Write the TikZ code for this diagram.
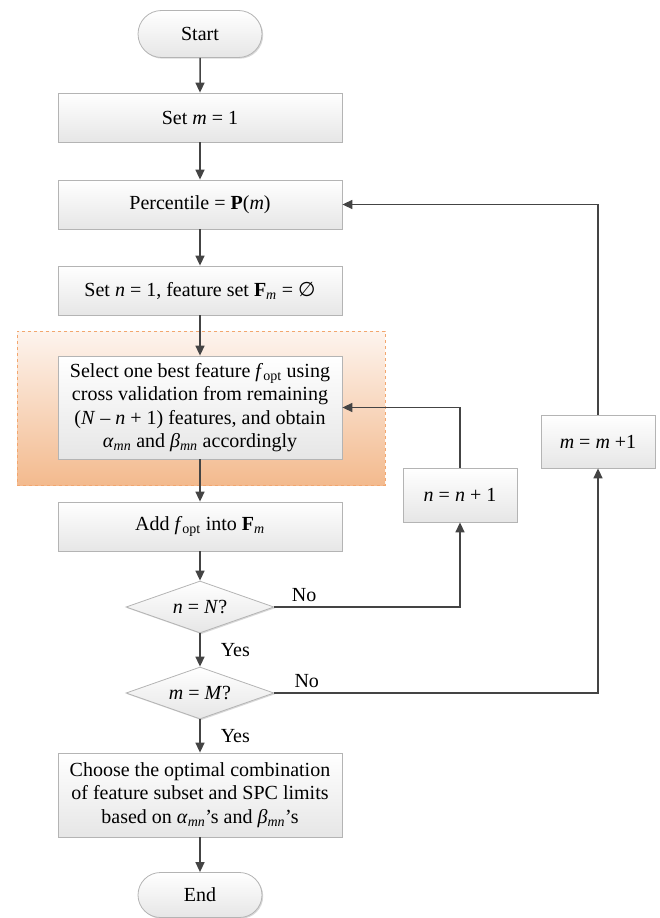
\documentclass[tikz,border=0pt]{standalone}
\usepackage{fontspec}
\setmainfont{Liberation Serif}
\newfontfamily\symfont{DejaVu Sans}
\usetikzlibrary{shapes.geometric,shapes.misc,arrows.meta,shadows}
\definecolor{boxborder}{HTML}{B4B4B4}
\definecolor{boxgray}{HTML}{E6E6E6}
\definecolor{linegray}{HTML}{444444}
\definecolor{orangetop}{HTML}{FDF4EE}
\definecolor{orangebot}{HTML}{F3BA8E}
\definecolor{orangeedge}{HTML}{F2A66E}
\begin{document}
\begin{tikzpicture}[x=1pt,y=-1pt,
  font=\fontsize{20}{23.5}\selectfont,
  shad/.style={drop shadow={shadow xshift=1.2pt,shadow yshift=-1.2pt,opacity=0.25,fill=black!60}},
  box/.style={draw=boxborder, line width=0.8pt, top color=white, bottom color=boxgray,
    minimum width=284pt, inner sep=0pt, align=center, shad},
  smallbox/.style={box, minimum width=114pt},
  pill/.style={rounded rectangle, draw=boxborder, line width=0.8pt, top color=white, bottom color=boxgray,
    minimum width=124pt, inner sep=0pt, shad},
  decision/.style={diamond, aspect=2.85, draw=boxborder, line width=0.8pt, top color=white, bottom color=boxgray,
    minimum width=148pt, minimum height=52pt, inner sep=0pt, shad},
  region/.style={draw=orangeedge, dashed, line width=0.8pt, top color=orangetop, bottom color=orangebot,
    minimum width=368pt, minimum height=154pt, inner sep=0pt},
  arr/.style={draw=linegray, line width=1.5pt, -{Triangle[length=10pt,width=9pt]}},
  lbl/.style={inner sep=2pt}
]
\useasboundingbox (0,0) rectangle (660,918);

\node[region] (zone) at (201,408) {};

\node[pill, minimum height=47pt] (start) at (200,34) {Start};
\node[box, minimum height=49pt] (setm) at (200,117.5) {Set \textit{m} = 1};
\node[box, minimum height=49pt] (perc) at (200,204.5) {Percentile = \textbf{P}(\textit{m})};
\node[box, minimum height=49pt] (setn) at (200,290.5) {Set \textit{n} = 1, feature set \textbf{F}\textsubscript{\textit{m}} = {\symfont ∅}};
\node[box, minimum height=103pt] (select) at (200,407.5) {Select one best feature \textit{f}\textsubscript{opt} using\\cross validation from remaining\\(\textit{N} – \textit{n} + 1) features, and obtain\\\textit{α}\textsubscript{\textit{mn}} and \textit{β}\textsubscript{\textit{mn}} accordingly};
\node[box, minimum height=49pt] (add) at (200,526.5) {Add \textit{f}\textsubscript{opt} into \textbf{F}\textsubscript{\textit{m}}};
\node[decision] (d1) at (200,607) {\textit{n} = \textit{N}?};
\node[decision] (d2) at (200,693) {\textit{m} = \textit{M}?};
\node[box, minimum height=84pt] (choose) at (200,795) {Choose the optimal combination\\of feature subset and SPC limits\\based on \textit{α}\textsubscript{\textit{mn}}’s and \textit{β}\textsubscript{\textit{mn}}’s};
\node[pill, minimum height=45pt] (end) at (200,895) {End};

\node[smallbox, minimum height=54pt] (nn) at (460,495) {\textit{n} = \textit{n} + 1};
\node[smallbox, minimum height=53pt] (mm) at (598,441.5) {\textit{m} = \textit{m} +1};

\draw[arr] (start) -- (setm);
\draw[arr] (setm) -- (perc);
\draw[arr] (perc) -- (setn);
\draw[arr] (setn) -- (select);
\draw[arr] (select) -- (add);
\draw[arr] (add) -- (d1);
\draw[arr] (d1) -- node[lbl, anchor=west, xshift=18pt] {Yes} (d2);
\draw[arr] (d2) -- node[lbl, anchor=west, xshift=18pt] {Yes} (choose);
\draw[arr] (choose) -- (end);

\draw[arr] (d1.east) -| node[lbl, pos=0.08, anchor=south, yshift=3pt] {No} (nn.south);
\draw[arr] (nn.north) |- (select.east);
\draw[arr] (d2.east) -| node[lbl, pos=0.05, anchor=south, yshift=3pt] {No} (mm.south);
\draw[arr] (mm.north) |- (perc.east);
\end{tikzpicture}
\end{document}
